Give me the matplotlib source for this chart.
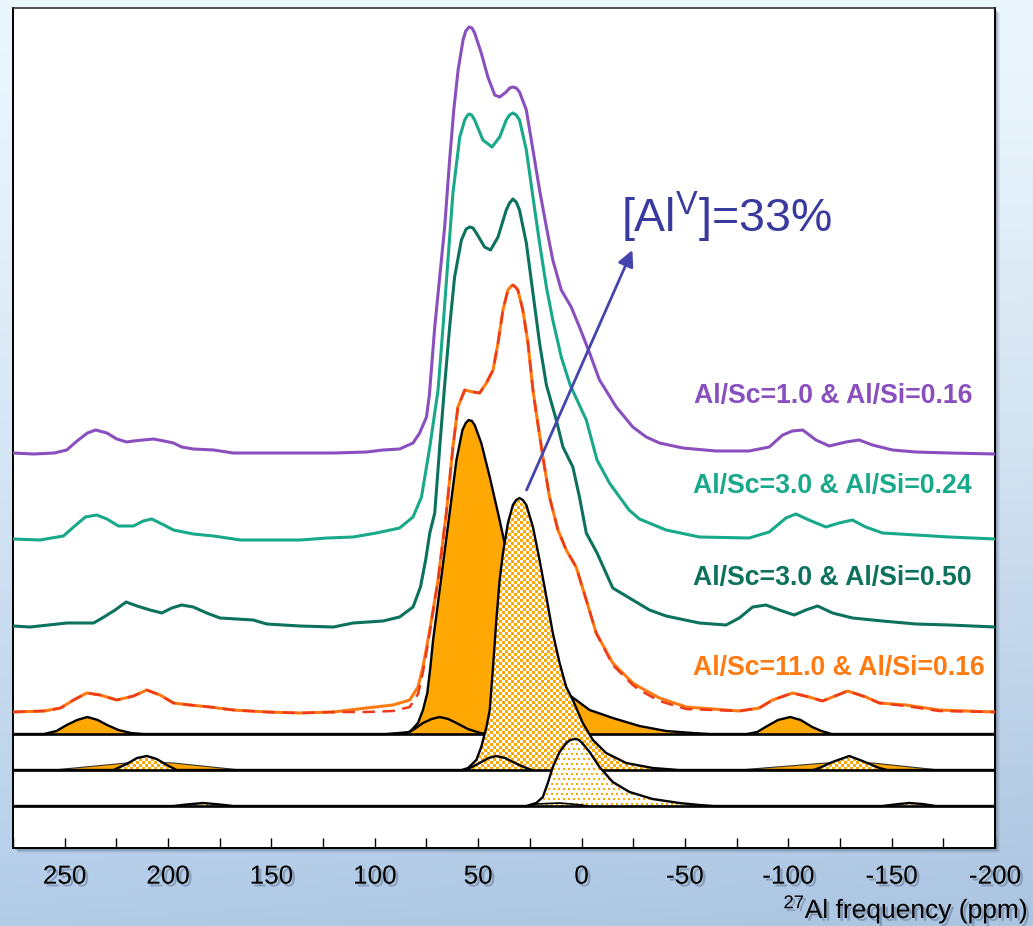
import numpy as np
import matplotlib
matplotlib.use("Agg")
import matplotlib.pyplot as plt
from matplotlib import patheffects as pe
from matplotlib.patches import Rectangle
from matplotlib.ticker import MultipleLocator, FuncFormatter
from matplotlib.colors import to_rgba

plt.rcParams['font.family'] = ['Liberation Sans', 'DejaVu Sans']
plt.rcParams['mathtext.fontset'] = 'custom'
plt.rcParams['mathtext.rm'] = 'Liberation Sans'
plt.rcParams['mathtext.it'] = 'Liberation Sans:italic'
plt.rcParams['mathtext.bf'] = 'Liberation Sans:bold'
plt.rcParams['axes.unicode_minus'] = False
plt.rcParams['lines.solid_joinstyle'] = 'round'
plt.rcParams['lines.solid_capstyle'] = 'round'

# ---------------- data (ppm, intensity above own baseline) ----------------
purple_ppm = [275, 265, 255, 249, 244, 239, 235, 229.6, 224.8, 220, 216.7, 212, 207, 202, 197.4, 193.4, 187.8, 178, 168.5, 152,
              136, 120, 104, 96, 88, 81.5, 78.3, 75, 73.6, 71, 68.6, 66.2, 63.8, 61.8, 59.7, 57.3, 56, 54.4, 53, 51.7, 48.5, 45.3,
              42, 39.6, 36.4, 34.8, 33.2, 31.6, 30, 26.7, 23.5, 20.3, 17, 13.9, 9.8, 5, 1, -3.9, -8.7, -16.8, -24.8, -31.3, -37.7, -49,
              -65, -81, -90.8, -97.3, -102, -107, -113.4, -119.8, -127.9, -134.3, -140.7, -150.4, -161.7, -177.8, -200]
purple_int = [0, -1, 0, 3, 12, 20, 23, 20, 14, 11, 12, 13, 14, 12, 10, 6, 4, 3, 0, 0,
              0, 0, 1, 3, 4, 10, 20, 36, 58, 126, 176, 226, 293, 343, 383, 413, 422, 426, 425, 420, 400, 376,
              358, 356, 361, 365, 366, 365, 361, 343, 303, 263, 226, 193, 163, 146, 126, 100, 73, 46, 26, 16, 10, 5,
              2, 2, 6, 18, 22, 23, 13, 7, 11, 13, 8, 3, 1, 0, -1]

teal_ppm = [275, 262, 250.6, 245.7, 240, 234.5, 229.6, 224, 216.7, 212, 207.9, 202, 197.4, 187.8, 178, 165, 136, 123, 110.5, 99.2,
            88, 81.5, 77.4, 75, 73.4, 69.4, 67, 64.6, 62.2, 58.9, 56.5, 55.4, 54.4, 53.2, 51.7, 47.7, 43.3, 39.6, 36.4, 34.8, 33.2, 31.6,
            30, 26.7, 23.5, 20.3, 17, 13.9, 9.8, 5.5, -2.3, -7.5, -13.5, -18.4, -23, -28, -40.9, -57, -81, -90.8, -98.9, -103.7, -110, -118.2,
            -124.6, -131, -137.5, -145.6, -161.7, -177.8, -200]
teal_int = [1, 0, 4, 13, 23, 25, 21, 14, 14, 19, 21, 15, 10, 6, 4, 0, 0, 2, 3, 7,
            12, 23, 43, 73, 93, 150, 213, 280, 347, 403, 420, 424, 426, 425, 420, 400, 393, 403, 420, 425, 427, 425,
            420, 390, 343, 297, 253, 220, 183, 155, 120, 80, 57, 43, 30, 21, 10, 3, 2, 8, 22, 26, 20, 13,
            17, 20, 13, 7, 5, 3, 1]

dgreen_ppm = [275, 266.7, 249, 236, 231, 225.6, 220.3, 215, 208.7, 203, 198.2, 193.4, 187.8, 181.3, 174.9, 158.8, 152.3, 136.2, 120, 110.5,
              96, 88, 81.5, 77.9, 75.4, 73.4, 71, 68.6, 66.2, 63.8, 61.4, 58.1, 55.8, 54.1, 52.5, 50.9, 46.9, 44, 40.4, 36.4, 34.8, 33.2, 31.6, 30,
              26.7, 23.5, 20.3, 17, 12.2, 9, 4.2, 1, -2.3, -7.5, -15.1, -24.8, -32.9, -40.9, -57, -69.9, -76.3, -82.8, -89.2, -95.7,
              -102.9, -108.5, -114.2, -121.4, -131.1, -145.6, -161.7, -177.8, -200]
dgreen_int = [-1, -2, 2, 2, 8, 15, 23, 19, 15, 12, 17, 20, 18, 12, 7, 5, 1, -1, -2, 2,
              4, 8, 18, 38, 65, 92, 112, 178, 240, 298, 348, 385, 396, 398, 397, 392, 378, 375, 388, 415, 422, 426, 423, 415,
              382, 332, 282, 240, 205, 178, 158, 128, 92, 72, 37, 25, 15, 9, 2, 0, 7, 18, 20, 15,
              10, 15, 19, 12, 7, 4, 1, 0, -2]

orange_ppm = [275, 260, 252, 245.7, 239.3, 232.9, 224.8, 216.7, 210.3, 203.9, 197.4, 189.4, 179.7, 168.5, 152.3, 136.2, 120, 104, 91.2, 83.1,
              79.1, 76.7, 74.3, 73.4, 69.4, 65.4, 62.2, 59.8, 56.5, 52.5, 49.3, 46, 42.8, 40.4, 38, 35.6, 34.4, 33.2, 32, 30.8, 28.4, 25.9,
              23.5, 21.9, 18.7, 15.5, 11.4, 7.4, 2.6, -2.3, -7.1, -15.1, -24.8, -28, -37.7, -50.6, -63.4, -76.3, -86, -92.4, -102.1, -110,
              -116.6, -128.7, -137.5, -144, -156.9, -172.9, -200]
orange_int = [0, 1, 4, 12, 19, 17, 12, 16, 22, 17, 9, 7, 5, 2, 0, -1, 0, 4, 7, 12,
              25, 45, 72, 82, 132, 199, 265, 305, 322, 320, 319, 329, 342, 369, 402, 422, 425, 427, 425, 422, 402, 369,
              322, 299, 255, 215, 182, 162, 145, 112, 79, 49, 29, 25, 14, 5, 3, 1, 4, 12, 19, 15,
              11, 21, 15, 9, 7, 2, 0]
fit_int = [0, 1, 4, 12, 19, 17, 12, 16, 22, 17, 9, 7, 5, 2, 0, -1, 0, 0, 1, 5,
           18, 40, 68, 80, 132, 199, 265, 305, 322, 320, 319, 329, 342, 369, 402, 422, 425, 427, 425, 422, 402, 369,
           322, 299, 255, 215, 182, 162, 145, 112, 79, 47, 27, 22, 11, 3, 2, 1, 4, 12, 19, 15,
           11, 21, 15, 9, 6, 1, 0]

# deconvolution components
c1_ppm = [275, 260, 254, 249, 244, 239, 234, 229.5, 224, 218, 212, 95, 88, 83.1, 79.1, 76.7, 74.6, 73.1, 71.8, 70.2,
          67, 63.8, 60.5, 57.6, 56, 54.6, 53, 51.7, 48.5, 44.4, 40.4, 37.2, 33, 29, 25, 20, 15, 11, 7.4, 2.6, -3.9, -15.1,
          -28, -40.9, -53.8, -62, -80, -85, -89, -95, -101, -106, -111.6, -116, -121, -200]
c1_int = [0, 0, 3, 9, 14, 17, 14, 9, 4, 1, 0, 0, 1, 2, 11, 24, 41, 67, 94, 119,
          170, 221, 274, 304, 311, 314, 313, 309, 291, 257, 221, 191, 165, 140, 117, 92, 70, 54, 41, 34, 24, 16,
          8, 3, 1, 0, 0, 2, 7, 14, 17, 14, 7, 3, 0, 0]
c1_ssb_ppm = [86, 81.5, 76.7, 72.5, 68.6, 64.5, 60.5, 55, 49, 45]
c1_ssb_int = [0, 4, 11, 15, 17, 15, 11, 5, 1, 0]

c2_ppm = [275, 226.4, 220, 215, 210.3, 205.5, 200.6, 195.8, 58, 54.9, 50.9, 48.5, 46, 44.4, 42.8, 41.2, 39.6, 38, 35.6, 33.2,
          31.6, 30, 28.4, 26.7, 23.5, 20.3, 17, 13.9, 10.6, 7.4, 4.2, -0.6, -5.5, -11.9, -21.6, -34.4, -47, -112, -115, -121.4, -129.5, -135.9,
          -144, -148, -200]
c2_int = [0, 0, 6, 12, 14, 11, 5, 0, 0, 2, 10, 23, 43, 60, 103, 150, 190, 217, 247, 265,
          270, 272, 270, 265, 243, 210, 173, 137, 107, 83, 70, 47, 30, 17, 7, 2, 0, 0, 2, 8, 14, 9,
          2, 0, 0]
c2_ssb_ppm = [56, 54, 49.3, 45, 41.2, 37, 33.2, 29, 26.7, 24]
c2_ssb_int = [0, 2, 7, 12, 14, 12, 8, 4, 2, 0]
c2_broad_ppm = [275, 255.4, 220, 210, 197.4, 165, -76.3, -118.2, -130, -140.7, -173, -200]
c2_broad_int = [0, 0, 7, 8, 7, 0, 0, 7, 8, 7, 0, 0]

c3_ppm = [275, 197.4, 191, 183, 175, 168.5, 26.7, 21.9, 18.7, 16.3, 13.9, 10.6, 7.4, 5.4, 3.4, 1.7, 0.1, -3.9, -8.7, -15.1, -23.2, -34.4,
          -47.3, -57, -64, -145.6, -153.6, -158.5, -164.9, -171.4, -200]
c3_int = [0, 0, 1.5, 3, 1.5, 0, 0, 3, 9, 23, 39, 54, 63, 66, 67, 66.5, 64, 54, 39, 24, 14, 7,
          3, 1, 0, 0, 2, 3, 2, 0, 0]
c3_ssb_ppm = [27, 21.9, 16, 10.6, 5, 0, -3]
c3_ssb_int = [0, 2, 2.5, 3, 2, 1, 0]

sample_labels = ["Al/Sc=1.0 & Al/Si=0.16", "Al/Sc=3.0 & Al/Si=0.24",
                 "Al/Sc=3.0 & Al/Si=0.50", "Al/Sc=11.0 & Al/Si=0.16"]
annotation_text = "[Al$^{\\mathrm{V}}$]=33%"
xlabel_text = "$^{27}$Al frequency (ppm)"

# ---------------- styling / layout ----------------
W, H = 1033, 926
fig = plt.figure(figsize=(W / 100, H / 100), dpi=100)

# slide background gradient
bg = fig.add_axes([0, 0, 1, 1], zorder=-10)
ny, nx = 200, 200
ty = np.linspace(0, 1, ny)[:, None]
tx = np.linspace(0, 1, nx)[None, :]
top = np.array([0.925, 0.965, 0.99])
bot = np.array([0.70, 0.80, 0.91])
img = top[None, None, :] + (bot - top)[None, None, :] * (ty ** 1.3)[..., None] \
      - 0.03 * (tx * ty)[..., None]
img = np.clip(img, 0, 1)
bg.imshow(img, extent=[0, 1, 0, 1], aspect='auto', origin='upper')
bg.set_xlim(0, 1); bg.set_ylim(0, 1)
bg.axis('off')

ax_l, ax_b, ax_w, ax_h = 13 / W, 1 - 848 / H, 982 / W, 840 / H
# frame shadow
for i, a in enumerate([0.10, 0.12, 0.16, 0.22]):
    off = (5 - i) / W, (5 - i) / H
    fig.patches.append(Rectangle((ax_l + off[0], ax_b - off[1]), ax_w, ax_h,
                                 transform=fig.transFigure, facecolor='#50607a',
                                 alpha=a, edgecolor='none', zorder=-5))

ax = fig.add_axes([ax_l, ax_b, ax_w, ax_h])
ax.set_facecolor('white')
XL, YL = (275, -200), (0, 840)

base = {'purple': 395, 'teal': 308, 'dgreen': 223, 'orange': 136, 'c1': 114, 'c2': 78, 'c3': 42}

C_PURPLE = '#8a4fbe'
C_TEAL = '#18a88a'
C_DGREEN = '#0c725d'
C_ORANGE = '#ff7b12'
C_RED = '#ee3a1c'
C_FILL = '#ffa804'

# texture images (pixel patterns) for the hatched components
PH, PW = 840, 982
yy, xx = np.mgrid[0:PH, 0:PW]
fill_rgba = np.array(to_rgba(C_FILL))
white = np.array([1, 1, 1, 1.0])
checker_mask = ((xx // 3 + yy // 3) % 2 == 0)
checker_img = np.where(checker_mask[..., None], fill_rgba, white)
dot_mask = (((xx + 2 * ((yy // 5) % 2)) % 5) < 2) & ((yy % 5) < 2)
dot_img = np.where(dot_mask[..., None], fill_rgba, white)


def poly(ppm, inten, b):
    xs = list(ppm) + [ppm[-1], ppm[0]]
    ys = [b + v for v in inten] + [b, b]
    return xs, ys


def textured(ppm, inten, b, pattern, z):
    xs, ys = poly(ppm, inten, b)
    patch = ax.fill(xs, ys, facecolor='none', edgecolor='none', zorder=z)[0]
    im = ax.imshow(pattern, extent=[XL[0], XL[1], YL[0], YL[1]], origin='upper',
                   interpolation='nearest', aspect='auto', zorder=z)
    im.set_clip_path(patch)


LW_C = 1.7
# --- component 1 (solid) ---
xs, ys = poly(c1_ppm, c1_int, base['c1'])
ax.fill(xs, ys, facecolor=C_FILL, edgecolor='none', zorder=2)
ax.plot(c1_ppm, [base['c1'] + v for v in c1_int], color='black', lw=LW_C, zorder=3)
ax.plot(c1_ssb_ppm, [base['c1'] + v for v in c1_ssb_int], color='black', lw=LW_C, zorder=3)
ax.axhline(base['c1'], color='black', lw=1.9, zorder=3)

# --- component 2 (checkered) ---
xs, ys = poly(c2_broad_ppm, c2_broad_int, base['c2'])
ax.fill(xs, ys, facecolor=C_FILL, edgecolor='none', zorder=4)
ax.plot(c2_broad_ppm, [base['c2'] + v for v in c2_broad_int], color='#333333', lw=0.8, zorder=4)
textured(c2_ppm, c2_int, base['c2'], checker_img, 4.5)
ax.plot(c2_ppm, [base['c2'] + v for v in c2_int], color='black', lw=LW_C, zorder=5)
ax.plot(c2_ssb_ppm, [base['c2'] + v for v in c2_ssb_int], color='black', lw=LW_C, zorder=5)
ax.axhline(base['c2'], color='black', lw=1.9, zorder=5)

# --- component 3 (dotted) ---
textured(c3_ppm, c3_int, base['c3'], dot_img, 6)
ax.plot(c3_ppm, [base['c3'] + v for v in c3_int], color='black', lw=LW_C, zorder=7)
ax.plot(c3_ssb_ppm, [base['c3'] + v for v in c3_ssb_int], color='black', lw=1.2, zorder=7)
ax.axhline(base['c3'], color='black', lw=1.9, zorder=7)

# --- spectra ---
ax.plot(purple_ppm, [base['purple'] + v for v in purple_int], color=C_PURPLE, lw=2.2, zorder=8)
ax.plot(teal_ppm, [base['teal'] + v for v in teal_int], color=C_TEAL, lw=2.2, zorder=8)
ax.plot(dgreen_ppm, [base['dgreen'] + v for v in dgreen_int], color=C_DGREEN, lw=2.2, zorder=8)
ax.plot(orange_ppm, [base['orange'] + v for v in orange_int], color=C_ORANGE, lw=2.2, zorder=8)
ax.plot(orange_ppm, [base['orange'] + v for v in fit_int], color=C_RED, lw=1.8,
        dashes=(5, 3), zorder=9)

ax.set_xlim(*XL)
ax.set_ylim(*YL)

# --- labels ---
lab_kw = dict(fontsize=19.2, fontweight='bold', ha='right', va='baseline', zorder=10)
ax.text(-188.9, 445, sample_labels[0], color=C_PURPLE, **lab_kw)
ax.text(-188.9, 355, sample_labels[1], color=C_TEAL, **lab_kw)
ax.text(-188.9, 263, sample_labels[2], color=C_DGREEN, **lab_kw)
ax.text(-195.2, 173, sample_labels[3], color=C_ORANGE, **lab_kw)

ax.text(-19.0, 616, annotation_text, color='#3a3a9e', fontsize=33.5, ha='left', va='baseline', zorder=10)
ax.annotate('', xy=(-24.6, 598), xytext=(26.6, 358),
            arrowprops=dict(arrowstyle='-|>', color='#4545ad', lw=2.0, mutation_scale=24,
                            shrinkA=0, shrinkB=0), zorder=10)

# --- axes styling ---
ax.set_yticks([])
ax.xaxis.set_major_locator(MultipleLocator(50))
ax.xaxis.set_minor_locator(MultipleLocator(25))
ax.xaxis.set_major_formatter(FuncFormatter(lambda v, p: f"{int(round(v))}"))
ax.tick_params(axis='x', which='both', direction='in', length=7.5, width=1.0, color='black')
ax.tick_params(axis='x', which='major', labelsize=18.8, pad=12)
shadow = [pe.withSimplePatchShadow(offset=(2, -2), shadow_rgbFace='#3a4a66', alpha=0.35)]
for lbl in ax.get_xticklabels():
    lbl.set_path_effects(shadow)
for side in ['left', 'bottom', 'right']:
    ax.spines[side].set_linewidth(1.4)
    ax.spines[side].set_color('black')
ax.spines['top'].set_linewidth(1.2)
ax.spines['top'].set_color('#333333')

fig.text(1028 / W, 1 - 918 / H, xlabel_text, fontsize=19, ha='right', va='baseline',
         path_effects=shadow)

fig.savefig('out.png', dpi=100)
